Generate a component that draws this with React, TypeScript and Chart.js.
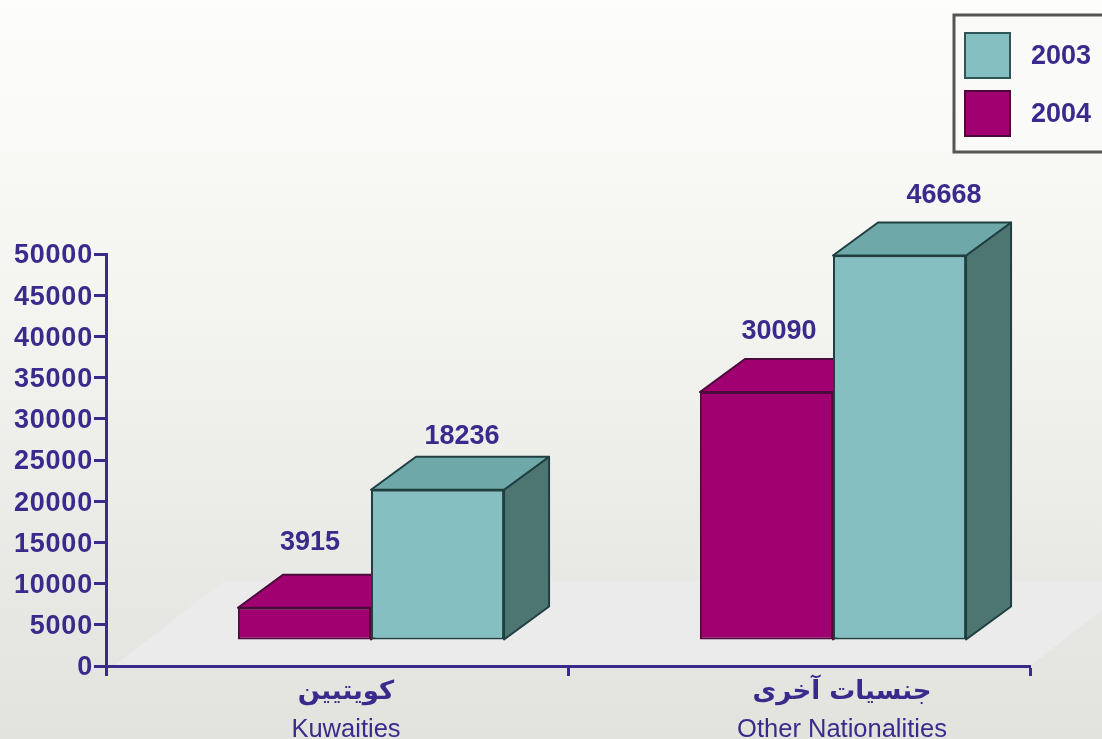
import React, { useEffect, useRef } from "react";
import { Chart, registerables } from "chart.js";

Chart.register(...registerables);

const categoriesArabic = ["كويتيين", "جنسيات آخرى"];
const categoriesEnglish = ["Kuwaities", "Other Nationalities"];
const seriesNames = ["2004", "2003"];
const values2004 = [3915, 30090];
const values2003 = [18236, 46668];
const yMax = 50000;
const yStep = 5000;

const INK = "#3b2a8c";
const TEAL = "#85bfc2";
const TEAL_TOP = "#6fa8a8";
const TEAL_SIDE = "#4d7673";
const MAGENTA = "#a00070";
const EDGE_TEAL = "#1f3f40";
const EDGE_MAGENTA = "#4a0a3c";

const FRONT_DX = 34;
const FRONT_DY = -26;
const DEPTH_X = 45;
const DEPTH_Y = -33;
const LABEL_FONT = "bold 27px 'Liberation Sans', Arial, sans-serif";

// hand offsets of the value labels relative to the back edge of each bar's top
const valueNudge = [
  [[-17, -32], [2, -20]],
  [[-10, -28], [22, -27]],
];
const categoryNudge = [9, 43];

function poly(ctx: CanvasRenderingContext2D, pts: number[][], fill: string, stroke: string) {
  ctx.beginPath();
  pts.forEach((p, i) => (i ? ctx.lineTo(p[0], p[1]) : ctx.moveTo(p[0], p[1])));
  ctx.closePath();
  ctx.fillStyle = fill;
  ctx.fill();
  ctx.lineWidth = 2;
  ctx.lineJoin = "round";
  ctx.strokeStyle = stroke;
  ctx.stroke();
}

const scenePlugin = {
  id: "scene",
  beforeDraw(chart: any) {
    const { ctx, chartArea: a } = chart;
    ctx.save();
    ctx.beginPath();
    ctx.moveTo(a.left + 8, a.bottom);
    ctx.lineTo(a.left + 118, a.bottom - 85);
    ctx.lineTo(chart.width, a.bottom - 85);
    ctx.lineTo(chart.width, a.bottom - 56);
    ctx.lineTo(a.right, a.bottom);
    ctx.closePath();
    ctx.fillStyle = "#ebebeb";
    ctx.fill();
    ctx.restore();
  },
  beforeDatasetsDraw(chart: any) {
    const { ctx } = chart;
    ctx.save();
    chart.data.datasets.forEach((ds: any, di: number) => {
      const isTeal = di === 1;
      chart.getDatasetMeta(di).data.forEach((bar: any) => {
        const half = bar.width / 2;
        const l = bar.x - half + FRONT_DX;
        const r = bar.x + half + FRONT_DX;
        const t = bar.y + FRONT_DY;
        const b = bar.base + FRONT_DY;
        const edge = isTeal ? EDGE_TEAL : EDGE_MAGENTA;
        poly(ctx, [[r, t], [r + DEPTH_X, t + DEPTH_Y], [r + DEPTH_X, b + DEPTH_Y], [r, b]], isTeal ? TEAL_SIDE : MAGENTA, edge);
        poly(ctx, [[l, t], [l + DEPTH_X, t + DEPTH_Y], [r + DEPTH_X, t + DEPTH_Y], [r, t]], isTeal ? TEAL_TOP : MAGENTA, edge);
      });
    });
    ctx.restore();
    ctx.save();
    ctx.translate(FRONT_DX, FRONT_DY);
  },
  afterDatasetsDraw(chart: any) {
    const { ctx } = chart;
    ctx.restore();
    ctx.save();
    ctx.fillStyle = INK;
    ctx.textAlign = "center";
    ctx.textBaseline = "middle";
    ctx.font = LABEL_FONT;
    chart.data.datasets.forEach((ds: any, di: number) => {
      chart.getDatasetMeta(di).data.forEach((bar: any, i: number) => {
        const n = valueNudge[i][di];
        const cx = bar.x + FRONT_DX + DEPTH_X / 2 + n[0];
        const cy = bar.y + FRONT_DY + DEPTH_Y + n[1];
        ctx.fillText(String(ds.data[i]), cx, cy);
      });
    });
    const xs = chart.scales.x;
    categoriesEnglish.forEach((name, i) => {
      const cx = xs.getPixelForValue(i) + categoryNudge[i];
      ctx.font = "bold 26px 'DejaVu Sans', sans-serif";
      ctx.fillText(categoriesArabic[i], cx, xs.bottom - 47);
      ctx.font = "25.5px 'Liberation Sans', Arial, sans-serif";
      ctx.fillText(name, cx, xs.bottom - 9);
    });
    const ys = chart.scales.y;
    ctx.font = LABEL_FONT;
    ctx.textAlign = "right";
    (ctx as any).letterSpacing = "0.8px";
    ys.ticks.forEach((tick: any, i: number) => {
      ctx.fillText(String(tick.label), ys.right - 13, ys.getPixelForTick(i) + 2);
    });
    ctx.restore();
  },
  afterDraw(chart: any) {
    const { ctx } = chart;
    ctx.save();
    ctx.fillStyle = "#fafaf8";
    ctx.strokeStyle = "#555555";
    ctx.lineWidth = 3;
    ctx.fillRect(954, 15, 160, 137);
    ctx.strokeRect(954, 15, 160, 137);
    const order = [1, 0];
    order.forEach((di, row) => {
      const y = 33 + row * 58;
      const isTeal = di === 1;
      ctx.fillStyle = isTeal ? TEAL : MAGENTA;
      ctx.strokeStyle = isTeal ? "#2f5556" : EDGE_MAGENTA;
      ctx.lineWidth = 2;
      ctx.fillRect(965, y, 45, 45);
      ctx.strokeRect(965, y, 45, 45);
      ctx.fillStyle = INK;
      ctx.font = LABEL_FONT;
      ctx.textAlign = "left";
      ctx.textBaseline = "middle";
      ctx.fillText(chart.data.datasets[di].label, 1031, y + 24);
    });
    ctx.restore();
  },
};

export default function App() {
  const ref = useRef<HTMLCanvasElement | null>(null);
  useEffect(() => {
    const chart = new Chart(ref.current as HTMLCanvasElement, {
      type: "bar",
      data: {
        labels: categoriesEnglish,
        datasets: [
          {
            label: seriesNames[0],
            data: values2004,
            backgroundColor: MAGENTA,
            borderColor: EDGE_MAGENTA,
            borderWidth: 2,
            borderSkipped: false,
            barPercentage: 1,
            categoryPercentage: 0.576,
          },
          {
            label: seriesNames[1],
            data: values2003,
            backgroundColor: TEAL,
            borderColor: EDGE_TEAL,
            borderWidth: 2,
            borderSkipped: false,
            barPercentage: 1,
            categoryPercentage: 0.576,
          },
        ],
      },
      options: {
        responsive: false,
        animation: false,
        layout: { padding: { left: 0, right: 72, top: 254, bottom: 0 } },
        plugins: { legend: { display: false }, tooltip: { enabled: false }, title: { display: false } },
        scales: {
          x: {
            afterFit: (s: any) => { s.height = 73; },
            grid: { drawOnChartArea: false, drawTicks: true, tickLength: 10, tickWidth: 3, tickColor: INK, color: INK },
            border: { color: INK, width: 3 },
            ticks: { display: false },
          },
          y: {
            min: 0,
            max: yMax,
            afterFit: (s: any) => { s.width = 106; },
            grid: { drawOnChartArea: false, tickLength: 12, tickWidth: 3, tickColor: INK, color: INK },
            border: { color: INK, width: 3 },
            ticks: {
              display: false,
              stepSize: yStep,
              autoSkip: false,
              callback: (v: any) => String(v),
            },
          },
        },
      },
      plugins: [scenePlugin],
    } as any);
    return () => chart.destroy();
  }, []);
  return (
    <div
      style={{
        position: "fixed",
        left: 0,
        top: 0,
        width: 1102,
        height: 739,
        overflow: "hidden",
        background: "linear-gradient(180deg, #fdfdfb 0%, #f4f5f1 40%, #e9eae6 75%, #e2e3dd 100%)",
      }}
    >
      <canvas ref={ref} width={1102} height={739} style={{ display: "block", filter: "blur(0.7px)" }} />
    </div>
  );
}
